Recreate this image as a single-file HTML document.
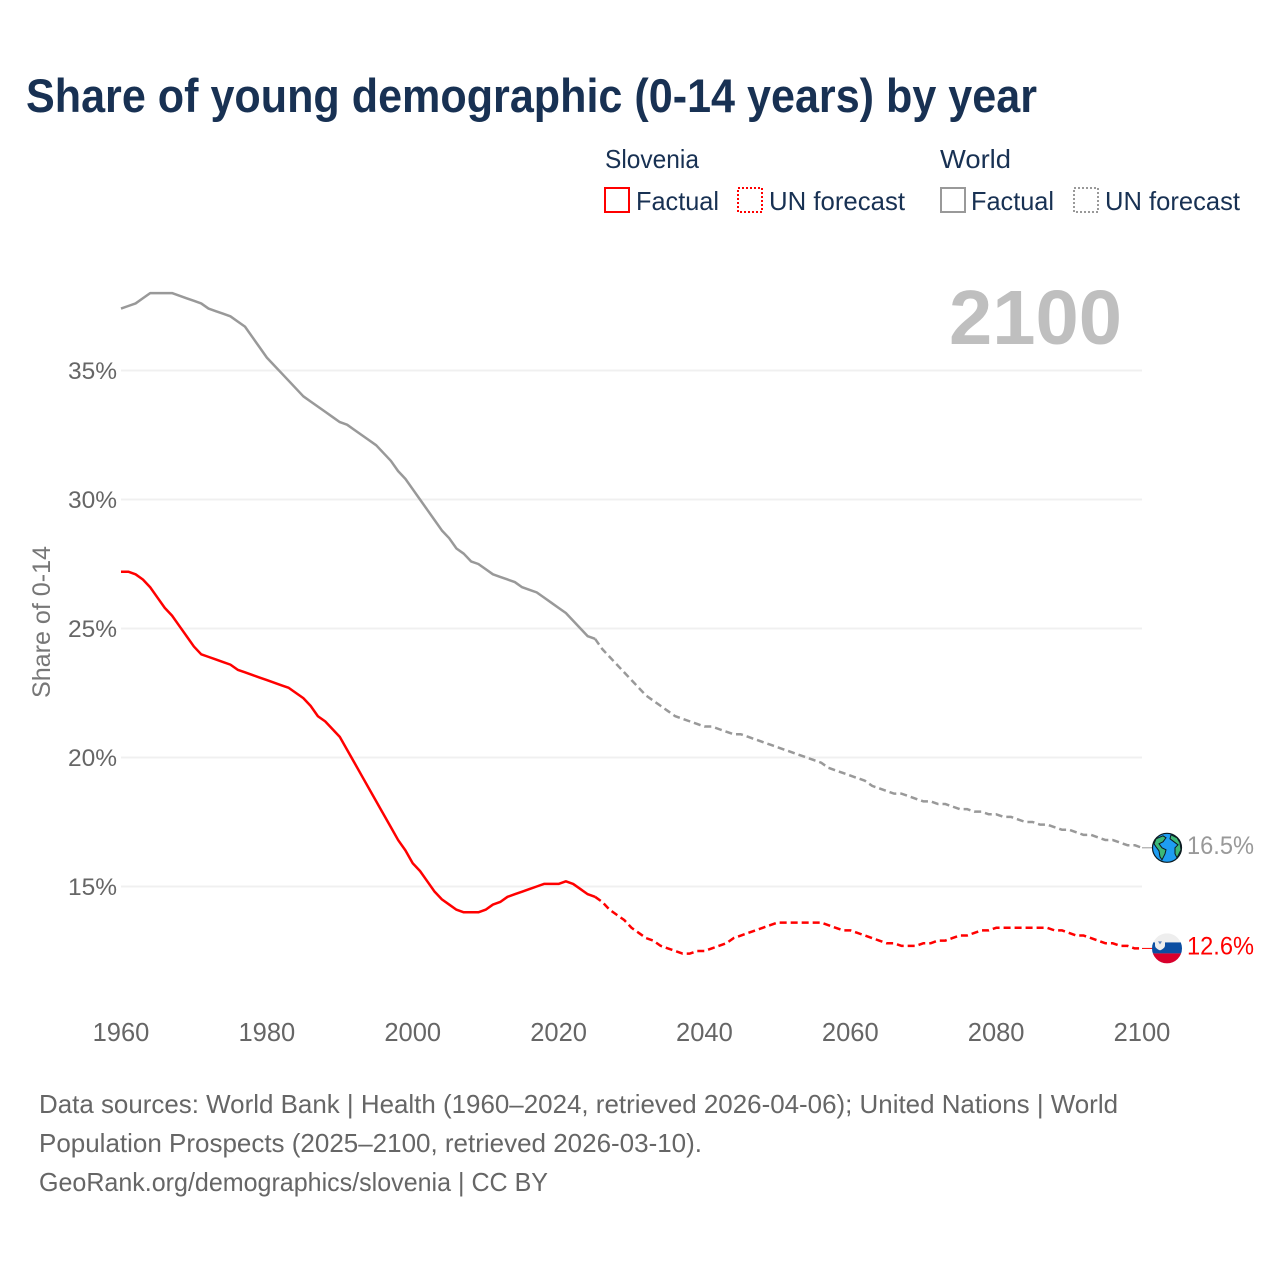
<!DOCTYPE html>
<html lang="en">
<head>
<meta charset="utf-8">
<title>Share of young demographic (0-14 years) by year</title>
<style>
html,body{margin:0;padding:0;background:#fff;}
svg{display:block;}
text{font-family:"Liberation Sans",sans-serif;}
</style>
</head>
<body>
<svg id="chart" xmlns="http://www.w3.org/2000/svg" width="1280" height="1280" viewBox="0 0 1280 1280">
  <text x="26" y="112" font-size="47" font-weight="700" fill="#183153" textLength="1011" lengthAdjust="spacingAndGlyphs">Share of young demographic (0-14 years) by year</text>

  <g font-size="26" fill="#183153">
    <text x="605" y="168" textLength="94" lengthAdjust="spacingAndGlyphs">Slovenia</text>
    <rect x="605" y="188" width="24" height="24" fill="none" stroke="#ff0000" stroke-width="2"/>
    <text x="636" y="210" textLength="83" lengthAdjust="spacingAndGlyphs">Factual</text>
    <rect x="738" y="188" width="24" height="24" fill="none" stroke="#ff0000" stroke-width="2" stroke-dasharray="2 2"/>
    <text x="769" y="210" textLength="136" lengthAdjust="spacingAndGlyphs">UN forecast</text>
    <text x="940" y="168" textLength="71" lengthAdjust="spacingAndGlyphs">World</text>
    <rect x="941" y="188" width="24" height="24" fill="none" stroke="#999999" stroke-width="2"/>
    <text x="971" y="210" textLength="83" lengthAdjust="spacingAndGlyphs">Factual</text>
    <rect x="1074" y="188" width="24" height="24" fill="none" stroke="#999999" stroke-width="2" stroke-dasharray="2 2"/>
    <text x="1105" y="210" textLength="135" lengthAdjust="spacingAndGlyphs">UN forecast</text>
  </g>

  <text x="949" y="344" font-size="77" font-weight="700" fill="#bfbfbf" textLength="173" lengthAdjust="spacingAndGlyphs">2100</text>

  <g id="grid"></g>
  <g id="yTicks" font-size="24.5" fill="#666666" text-anchor="end"></g>
  <g id="xTicks" font-size="25.5" fill="#666666" text-anchor="middle"></g>
  <text transform="translate(50 622) rotate(-90)" font-size="25" fill="#777777" text-anchor="middle" textLength="152" lengthAdjust="spacingAndGlyphs">Share of 0-14</text>

  <g id="series"></g>

  <g id="worldMarker">
    <circle cx="0" cy="0" r="14.5" fill="#1e9df2" stroke="#0b1a20" stroke-width="1.2"/>
    <path d="M-11-9-4-12-1-10-4-6-8-4-5 0-1 2-2 6-5 12-7 9-8 3-11-1-13-4Z" fill="#3cb878" stroke="#0b1a20" stroke-width="1"/>
    <path d="M4-13 10-10 13-5 14 2 10 10 8 6 8 0 11-3 7-6 3-9Z" fill="#3cb878" stroke="#0b1a20" stroke-width="1"/>
  </g>
  <g id="sloveniaMarker">
    <clipPath id="flagClip"><circle cx="0" cy="0" r="15"/></clipPath>
    <g clip-path="url(#flagClip)">
      <rect x="-15" y="-15" width="30" height="10" fill="#eeeeee"/>
      <rect x="-15" y="-6" width="30" height="11" fill="#0b4ea2"/>
      <rect x="-15" y="5" width="30" height="10" fill="#d8002c"/>
    </g>
    <path d="M-12-7H-2V-3Q-2 0-7 2-12 0-12-3Z" fill="#eeeeee"/>
    <path d="M-9-7-7-4-5-7Z" fill="#5f86c0"/>
  </g>
  <text id="worldValue" x="1187" font-size="25" fill="#999999" textLength="67" lengthAdjust="spacingAndGlyphs"></text>
  <text id="sloveniaValue" x="1187" font-size="25" fill="#ff0000" textLength="67" lengthAdjust="spacingAndGlyphs"></text>

  <g font-size="26" fill="#666666">
    <text x="39" y="1113" textLength="1079" lengthAdjust="spacingAndGlyphs">Data sources: World Bank | Health (1960–2024, retrieved 2026-04-06); United Nations | World</text>
    <text x="39" y="1152" textLength="663" lengthAdjust="spacingAndGlyphs">Population Prospects (2025–2100, retrieved 2026-03-10).</text>
    <text x="39" y="1191" textLength="509" lengthAdjust="spacingAndGlyphs">GeoRank.org/demographics/slovenia | CC BY</text>
  </g>
</svg>
<script>
const yTickValues = [15, 20, 25, 30, 35];
const yTickLabels = ["15%", "20%", "25%", "30%", "35%"];
const xTickValues = [1960, 1980, 2000, 2020, 2040, 2060, 2080, 2100];
const xTickLabels = ["1960", "1980", "2000", "2020", "2040", "2060", "2080", "2100"];

const factualYears = [1960,1961,1962,1963,1964,1965,1966,1967,1968,1969,1970,1971,1972,1973,1974,1975,1976,1977,1978,1979,1980,1981,1982,1983,1984,1985,1986,1987,1988,1989,1990,1991,1992,1993,1994,1995,1996,1997,1998,1999,2000,2001,2002,2003,2004,2005,2006,2007,2008,2009,2010,2011,2012,2013,2014,2015,2016,2017,2018,2019,2020,2021,2022,2023,2024,2025];
const forecastYears = [2025,2026,2027,2028,2029,2030,2031,2032,2033,2034,2035,2036,2037,2038,2039,2040,2041,2042,2043,2044,2045,2046,2047,2048,2049,2050,2051,2052,2053,2054,2055,2056,2057,2058,2059,2060,2061,2062,2063,2064,2065,2066,2067,2068,2069,2070,2071,2072,2073,2074,2075,2076,2077,2078,2079,2080,2081,2082,2083,2084,2085,2086,2087,2088,2089,2090,2091,2092,2093,2094,2095,2096,2097,2098,2099,2100];

const worldFactual = [37.4,37.5,37.6,37.8,38.0,38.0,38.0,38.0,37.9,37.8,37.7,37.6,37.4,37.3,37.2,37.1,36.9,36.7,36.3,35.9,35.5,35.2,34.9,34.6,34.3,34.0,33.8,33.6,33.4,33.2,33.0,32.9,32.7,32.5,32.3,32.1,31.8,31.5,31.1,30.8,30.4,30.0,29.6,29.2,28.8,28.5,28.1,27.9,27.6,27.5,27.3,27.1,27.0,26.9,26.8,26.6,26.5,26.4,26.2,26.0,25.8,25.6,25.3,25.0,24.7,24.6];
const worldForecast = [24.6,24.2,23.9,23.6,23.3,23.0,22.7,22.4,22.2,22.0,21.8,21.6,21.5,21.4,21.3,21.2,21.2,21.1,21.0,20.9,20.9,20.8,20.7,20.6,20.5,20.4,20.3,20.2,20.1,20.0,19.9,19.8,19.6,19.5,19.4,19.3,19.2,19.1,18.9,18.8,18.7,18.6,18.6,18.5,18.4,18.3,18.3,18.2,18.2,18.1,18.0,18.0,17.9,17.9,17.8,17.8,17.7,17.7,17.6,17.5,17.5,17.4,17.4,17.3,17.2,17.2,17.1,17.0,17.0,16.9,16.8,16.8,16.7,16.6,16.6,16.5];
const sloveniaFactual = [27.2,27.2,27.1,26.9,26.6,26.2,25.8,25.5,25.1,24.7,24.3,24.0,23.9,23.8,23.7,23.6,23.4,23.3,23.2,23.1,23.0,22.9,22.8,22.7,22.5,22.3,22.0,21.6,21.4,21.1,20.8,20.3,19.8,19.3,18.8,18.3,17.8,17.3,16.8,16.4,15.9,15.6,15.2,14.8,14.5,14.3,14.1,14.0,14.0,14.0,14.1,14.3,14.4,14.6,14.7,14.8,14.9,15.0,15.1,15.1,15.1,15.2,15.1,14.9,14.7,14.6];
const sloveniaForecast = [14.6,14.4,14.1,13.9,13.7,13.4,13.2,13.0,12.9,12.7,12.6,12.5,12.4,12.4,12.5,12.5,12.6,12.7,12.8,13.0,13.1,13.2,13.3,13.4,13.5,13.6,13.6,13.6,13.6,13.6,13.6,13.6,13.5,13.4,13.3,13.3,13.2,13.1,13.0,12.9,12.8,12.8,12.7,12.7,12.7,12.8,12.8,12.9,12.9,13.0,13.1,13.1,13.2,13.3,13.3,13.4,13.4,13.4,13.4,13.4,13.4,13.4,13.4,13.3,13.3,13.2,13.1,13.1,13.0,12.9,12.8,12.8,12.7,12.7,12.6,12.6];

const SVGNS = "http://www.w3.org/2000/svg";
function xScale(year) { return 121 + (year - 1960) * (1142 - 121) / 140; }
function yScale(value) { return 886.5 - (value - 15) * (886.5 - 370.5) / 20; }
function make(tag, parent) {
  const el = document.createElementNS(SVGNS, tag);
  parent.appendChild(el);
  return el;
}
function linePath(years, values) {
  return years.map(function (yr, i) {
    return (i ? "L" : "M") + xScale(yr).toFixed(2) + " " + yScale(values[i]).toFixed(2);
  }).join("");
}

const gridGroup = document.getElementById("grid");
const yTickGroup = document.getElementById("yTicks");
yTickValues.forEach(function (v, i) {
  const g = make("line", gridGroup);
  
  
  g.setAttribute("x1", xScale(1960));
  g.setAttribute("x2", xScale(2100));
  g.setAttribute("y1", yScale(v));
  g.setAttribute("y2", yScale(v));
  g.setAttribute("stroke", "#f0f0f0");
  g.setAttribute("stroke-width", "2");
  const t = make("text", yTickGroup);
  
  
  t.setAttribute("x", 117);
  t.setAttribute("y", yScale(v) + 8.5);
  t.textContent = yTickLabels[i];
});

const xTickGroup = document.getElementById("xTicks");
xTickValues.forEach(function (v, i) {
  const t = make("text", xTickGroup);
  
  
  t.setAttribute("x", xScale(v));
  t.setAttribute("y", 1041);
  t.textContent = xTickLabels[i];
});

const seriesGroup = document.getElementById("series");
function drawLine(years, values, color, dash, name) {
  const p = make("path", seriesGroup);
  
  
  p.setAttribute("d", linePath(years, values));
  p.setAttribute("fill", "none");
  p.setAttribute("stroke", color);
  p.setAttribute("stroke-width", "2.5");
  p.setAttribute("stroke-linejoin", "round");
  if (dash) p.setAttribute("stroke-dasharray", dash);
}
drawLine(factualYears, worldFactual, "#999999", null, "world-factual-line");
drawLine(forecastYears, worldForecast, "#999999", "7 4", "world-forecast-line");
drawLine(factualYears, sloveniaFactual, "#ff0000", null, "slovenia-factual-line");
drawLine(forecastYears, sloveniaForecast, "#ff0000", "7 4", "slovenia-forecast-line");

function placeEnd(values, color, markerId, labelId, leaderName) {
  const last = values[values.length - 1];
  const x = xScale(2100);
  const y = yScale(last);
  const leader = make("line", seriesGroup);
  
  
  leader.setAttribute("x1", x);
  leader.setAttribute("x2", x + 12);
  leader.setAttribute("y1", y);
  leader.setAttribute("y2", y);
  leader.setAttribute("stroke", color);
  leader.setAttribute("stroke-width", "1");
  document.getElementById(markerId).setAttribute("transform", "translate(" + (x + 25) + " " + y + ")");
  const label = document.getElementById(labelId);
  label.setAttribute("y", y + 6);
  label.textContent = last.toFixed(1) + "%";
}
placeEnd(worldForecast, "#999999", "worldMarker", "worldValue", "world-leader-line");
placeEnd(sloveniaForecast, "#ff0000", "sloveniaMarker", "sloveniaValue", "slovenia-leader-line");
</script>
</body>
</html>
